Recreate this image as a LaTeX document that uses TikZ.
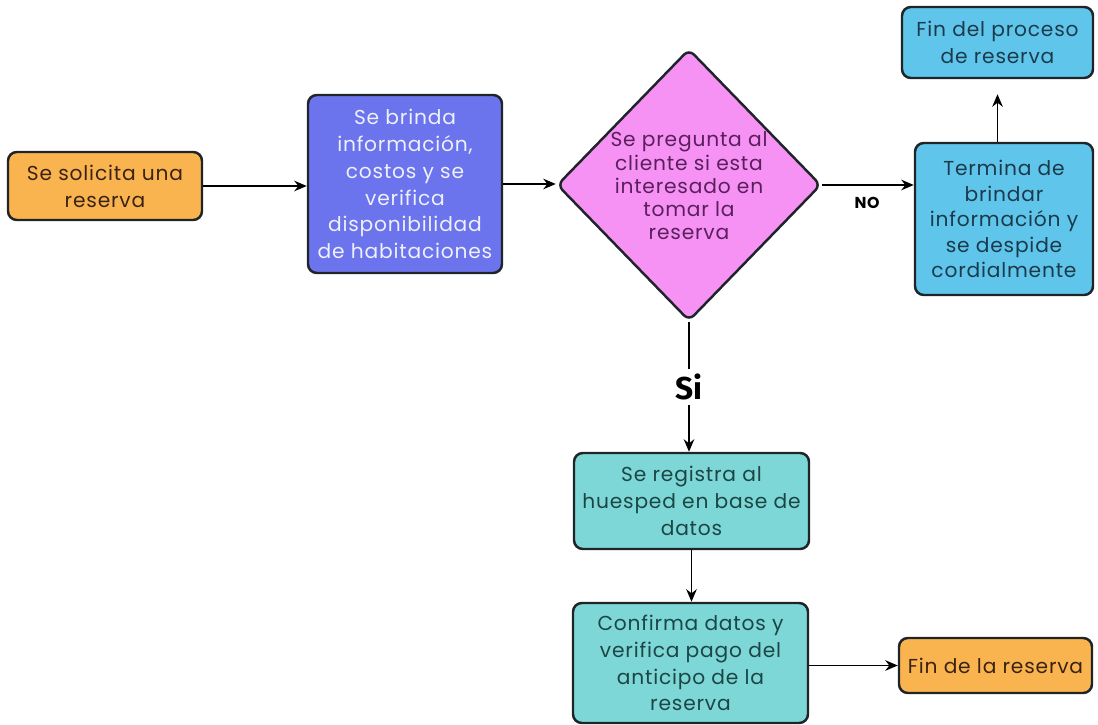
\documentclass[tikz,border=0pt]{standalone}
\usepackage{fontspec}
\setmainfont{Poppins}[LetterSpace=4]
\newfontfamily\sifont{Fira Sans}
\usetikzlibrary{shapes.geometric,arrows.meta}

\definecolor{naranja}{HTML}{F9B450}
\definecolor{cafe}{HTML}{3B2314}
\definecolor{azulvio}{HTML}{6B74EC}
\definecolor{blancotxt}{HTML}{EEF0FA}
\definecolor{rosa}{HTML}{F592F3}
\definecolor{moradotxt}{HTML}{5B1F5E}
\definecolor{celeste}{HTML}{60C5EA}
\definecolor{celestetxt}{HTML}{1B3B4C}
\definecolor{turquesa}{HTML}{7DD7D6}
\definecolor{turquesatxt}{HTML}{1C4646}
\definecolor{borde}{HTML}{1E2428}

\begin{document}
\begin{tikzpicture}[>={Stealth[length=2.5mm,width=2.1mm]}, line width=1.1pt]
    \useasboundingbox (0, 0) rectangle (21.96, -14.5);
    \begin{scope}[every node/.style={rectangle, rounded corners=5pt, draw=borde, line width=1.4pt,
        align=center, inner sep=0pt, font=\fontsize{11.5}{15.3}\selectfont}]
      \node[fill=naranja, text=cafe, minimum width=3.88cm, minimum height=1.36cm] (A) at (2.10, -3.72) {Se solicita una\\reserva};
      \node[fill=azulvio, text=blancotxt, minimum width=3.88cm, minimum height=3.56cm] (B) at (8.10, -3.68) {Se brinda\\información,\\costos y se\\verifica\\disponibilidad\\de habitaciones};
      \node[fill=celeste, text=celestetxt, minimum width=3.56cm, minimum height=3.04cm,
          font=\fontsize{11.5}{14.5}\selectfont] (D) at (20.08, -4.38) {Termina de\\brindar\\información y\\se despide\\cordialmente};
      \node[fill=celeste, text=celestetxt, minimum width=3.82cm, minimum height=1.42cm] (E) at (19.95, -0.85) {Fin del proceso\\de reserva};
      \node[fill=turquesa, text=turquesatxt, minimum width=4.7cm, minimum height=1.92cm] (F) at (13.83, -10.02) {Se registra al\\huesped en base de\\datos};
      \node[fill=turquesa, text=turquesatxt, minimum width=4.7cm, minimum height=2.4cm] (G) at (13.81, -13.26) {Confirma datos y\\verifica pago del\\anticipo de la\\reserva};
      \node[fill=naranja, text=cafe, minimum width=3.86cm, minimum height=1.1cm] (H) at (19.91, -13.31) {Fin de la reserva};
    \end{scope}

    % rombo de decision
    \node[diamond, draw=borde, fill=rosa, rounded corners=4pt, line width=1.4pt, inner sep=0pt,
        minimum width=5.28cm, minimum height=5.44cm] (C) at (13.78, -3.70) {};
    \node[text=moradotxt, align=center, font=\fontsize{11.5}{13.2}\selectfont] (Ctxt) at (13.78, -3.72)
        {Se pregunta al\\cliente si esta\\interesado en\\tomar la\\reserva};

    \draw[->] (A.east) -- (A.east -| B.west);
    \draw[->] (B.east) -- (B.east -| C.west);
    \draw[->] (C.east) -- (C.east -| D.west);
    \node[font=\bfseries\fontsize{9}{9}\selectfont] (no) at (17.34, -4.06) {NO};
    \draw[->, shorten >=0.3cm] (E.south |- D.north) -- (E.south);
    \draw[->] (C.south) -- node[fill=white, inner sep=3pt, font=\sifont\bfseries\fontsize{18}{18}\selectfont] (si) {Si}
        (C.south |- F.north);
    \draw[->] (F.south) -- (F.south |- G.north);
    \draw[->] (H.west -| G.east) -- (H.west);
\end{tikzpicture}
\end{document}
